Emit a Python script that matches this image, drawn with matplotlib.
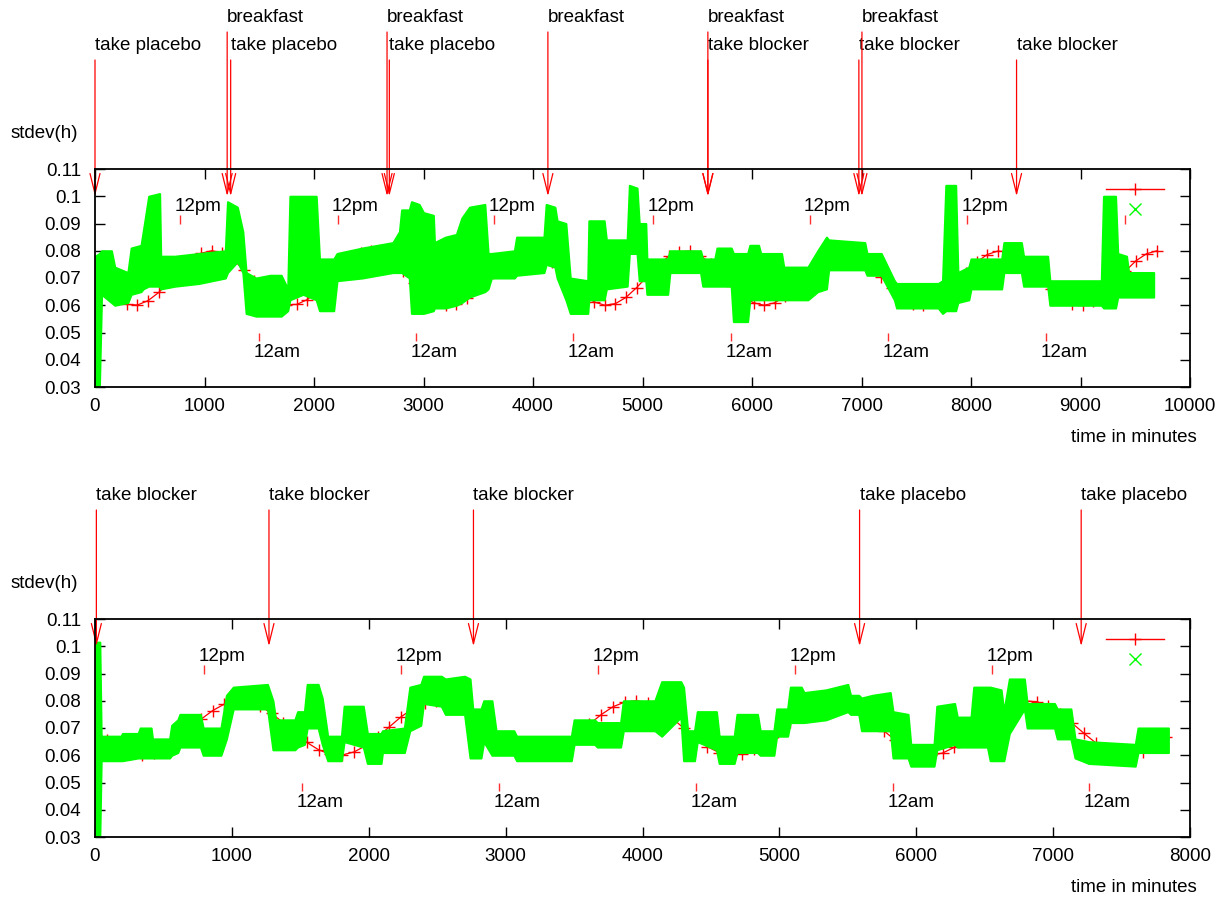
import numpy as np
import matplotlib
matplotlib.use('Agg')
import matplotlib.pyplot as plt
import matplotlib.transforms as mtransforms
from matplotlib.lines import Line2D
from matplotlib.ticker import FuncFormatter

plt.rcParams['font.family'] = ['Liberation Sans', 'DejaVu Sans']
FS = 13.5

# ---------------- top panel data ----------------
top_red_t = np.arange(0, 9701, 97)
top_red_v = [0.0696, 0.0655, 0.0622, 0.0603, 0.0601, 0.0617, 0.0647, 0.0687, 0.0728, 0.0765,
             0.0791, 0.0800, 0.0792, 0.0767, 0.0731, 0.0689, 0.0649, 0.0618, 0.0602, 0.0603,
             0.0621, 0.0653, 0.0693, 0.0735, 0.0770, 0.0793, 0.0800, 0.0789, 0.0762, 0.0725,
             0.0683, 0.0644, 0.0615, 0.0601, 0.0604, 0.0625, 0.0659, 0.0700, 0.0741, 0.0775,
             0.0795, 0.0799, 0.0786, 0.0757, 0.0718, 0.0676, 0.0638, 0.0612, 0.0600, 0.0606,
             0.0629, 0.0665, 0.0706, 0.0747, 0.0779, 0.0797, 0.0798, 0.0782, 0.0752, 0.0712,
             0.0670, 0.0633, 0.0609, 0.0600, 0.0609, 0.0634, 0.0671, 0.0713, 0.0752, 0.0783,
             0.0798, 0.0797, 0.0778, 0.0746, 0.0705, 0.0664, 0.0629, 0.0606, 0.0600, 0.0612,
             0.0639, 0.0677, 0.0719, 0.0758, 0.0786, 0.0799, 0.0795, 0.0774, 0.0740, 0.0699,
             0.0658, 0.0624, 0.0604, 0.0601, 0.0615, 0.0644, 0.0684, 0.0725, 0.0763, 0.0789,
             0.0800]

top_g_t = [0, 40, 60, 150, 180, 300, 330, 420, 440, 490, 590, 600, 730, 950, 1190, 1210, 1300,
           1350, 1380, 1470, 1600, 1700, 1760, 1780, 1900, 2020, 2050, 2180, 2210, 2440, 2720,
           2780, 2800, 2870, 2890, 2960, 3000, 3090, 3100, 3200, 3300, 3350, 3420, 3560, 3590,
           3620, 3830, 3850, 4100, 4120, 4200, 4220, 4300, 4340, 4500, 4510, 4650, 4670, 4860,
           4880, 4950, 4970, 5030, 5040, 5230, 5250, 5530, 5550, 5660, 5680, 5810, 5830, 5960,
           5980, 6060, 6080, 6270, 6290, 6510, 6600, 6680, 6700, 7030, 7050, 7180, 7300, 7320,
           7700, 7740, 7770, 7860, 7880, 7980, 8000, 8280, 8300, 8460, 8480, 8700, 8720, 9190,
           9210, 9320, 9340, 9420, 9440, 9668]
top_g_lo = [0.030, 0.030, 0.064, 0.061, 0.060, 0.061, 0.064, 0.065, 0.066, 0.067, 0.067, 0.066,
            0.067, 0.068, 0.070, 0.072, 0.076, 0.072, 0.057, 0.056, 0.056, 0.056, 0.058, 0.062,
            0.064, 0.062, 0.058, 0.058, 0.069, 0.070, 0.072, 0.072, 0.072, 0.070, 0.057, 0.057,
            0.057, 0.058, 0.059, 0.059, 0.060, 0.061, 0.063, 0.065, 0.066, 0.070, 0.070, 0.071,
            0.072, 0.075, 0.074, 0.070, 0.062, 0.057, 0.057, 0.062, 0.062, 0.066, 0.067, 0.079,
            0.079, 0.069, 0.069, 0.064, 0.064, 0.072, 0.072, 0.067, 0.067, 0.067, 0.067, 0.054,
            0.054, 0.062, 0.062, 0.062, 0.062, 0.062, 0.062, 0.065, 0.066, 0.073, 0.073, 0.071,
            0.071, 0.062, 0.059, 0.059, 0.057, 0.058, 0.058, 0.061, 0.062, 0.066, 0.066, 0.072,
            0.072, 0.067, 0.067, 0.060, 0.060, 0.059, 0.059, 0.063, 0.063, 0.063, 0.063]
top_g_hi = [0.078, 0.079, 0.080, 0.080, 0.074, 0.072, 0.081, 0.082, 0.087, 0.100, 0.101, 0.078,
            0.078, 0.079, 0.080, 0.098, 0.096, 0.087, 0.072, 0.070, 0.071, 0.071, 0.066, 0.100,
            0.100, 0.100, 0.077, 0.077, 0.079, 0.081, 0.083, 0.087, 0.095, 0.095, 0.098, 0.097,
            0.094, 0.093, 0.083, 0.085, 0.086, 0.092, 0.096, 0.097, 0.079, 0.079, 0.080, 0.085,
            0.085, 0.097, 0.096, 0.091, 0.090, 0.070, 0.069, 0.091, 0.091, 0.084, 0.084, 0.104,
            0.103, 0.090, 0.090, 0.077, 0.077, 0.080, 0.080, 0.077, 0.077, 0.081, 0.081, 0.079,
            0.079, 0.082, 0.082, 0.079, 0.079, 0.074, 0.074, 0.080, 0.085, 0.084, 0.083, 0.079,
            0.079, 0.069, 0.068, 0.068, 0.069, 0.104, 0.104, 0.072, 0.074, 0.077, 0.077, 0.083,
            0.083, 0.078, 0.078, 0.069, 0.069, 0.100, 0.100, 0.079, 0.078, 0.072, 0.072]

top_noon = [776, 2216, 3646, 5096, 6526, 7966, 9404]
top_noon_labels = ['12pm', '12pm', '12pm', '12pm', '12pm', '12pm', '']
top_midnight = [1496, 2932, 4366, 5808, 7240, 8688]

top_pill_t = [0, 1239, 2688, 5597, 6976, 8416]
top_pill_text = ['take placebo', 'take placebo', 'take placebo',
                 'take blocker', 'take blocker', 'take blocker']
top_breakfast_t = [1207, 2667, 4136, 5597, 7004]

# ---------------- bottom panel data ----------------
bot_red_t = np.arange(0, 7827, 86)
bot_red_v = [0.0691, 0.0655, 0.0626, 0.0606, 0.0600, 0.0608, 0.0628, 0.0659, 0.0695, 0.0732,
             0.0764, 0.0788, 0.0799, 0.0797, 0.0781, 0.0754, 0.0719, 0.0682, 0.0647, 0.0620,
             0.0603, 0.0601, 0.0612, 0.0635, 0.0667, 0.0704, 0.0741, 0.0771, 0.0792, 0.0800,
             0.0794, 0.0775, 0.0745, 0.0710, 0.0672, 0.0639, 0.0614, 0.0601, 0.0602, 0.0617,
             0.0643, 0.0677, 0.0714, 0.0749, 0.0778, 0.0795, 0.0800, 0.0790, 0.0768, 0.0737,
             0.0700, 0.0663, 0.0632, 0.0610, 0.0600, 0.0605, 0.0622, 0.0651, 0.0686, 0.0723,
             0.0757, 0.0783, 0.0798, 0.0799, 0.0786, 0.0761, 0.0728, 0.0690, 0.0655, 0.0625,
             0.0606, 0.0600, 0.0608, 0.0629, 0.0659, 0.0696, 0.0733, 0.0765, 0.0788, 0.0799,
             0.0797, 0.0780, 0.0753, 0.0718, 0.0681, 0.0646, 0.0619, 0.0603, 0.0601, 0.0612,
             0.0636, 0.0668]

bot_g_t = [0, 35, 45, 190, 200, 315, 330, 410, 420, 545, 560, 605, 620, 770, 790, 920, 960,
           1010, 1260, 1300, 1320, 1460, 1480, 1530, 1550, 1630, 1660, 1700, 1800, 1820, 1960,
           1990, 2090, 2100, 2260, 2300, 2380, 2400, 2530, 2560, 2700, 2740, 2760, 2820, 2840,
           2900, 2930, 3060, 3080, 3480, 3500, 3650, 3670, 3840, 3860, 4090, 4140, 4280, 4300,
           4330, 4380, 4400, 4540, 4560, 4670, 4690, 4840, 4860, 4960, 4980, 5060, 5080, 5160,
           5180, 5340, 5500, 5520, 5580, 5600, 5680, 5810, 5830, 5940, 5960, 6130, 6150, 6280,
           6300, 6400, 6420, 6520, 6540, 6620, 6640, 6680, 6790, 6810, 7010, 7030, 7130, 7160,
           7260, 7600, 7620, 7842]
bot_g_lo = [0.030, 0.030, 0.058, 0.058, 0.058, 0.059, 0.059, 0.059, 0.059, 0.059, 0.060, 0.061,
            0.063, 0.063, 0.060, 0.060, 0.066, 0.077, 0.077, 0.062, 0.062, 0.062, 0.063, 0.064,
            0.070, 0.070, 0.064, 0.058, 0.058, 0.065, 0.063, 0.057, 0.057, 0.061, 0.061, 0.069,
            0.071, 0.079, 0.078, 0.075, 0.075, 0.059, 0.059, 0.059, 0.065, 0.060, 0.060, 0.060,
            0.058, 0.058, 0.064, 0.064, 0.063, 0.063, 0.069, 0.069, 0.067, 0.074, 0.058, 0.058,
            0.058, 0.065, 0.062, 0.057, 0.057, 0.061, 0.061, 0.060, 0.060, 0.067, 0.067, 0.072,
            0.072, 0.072, 0.073, 0.076, 0.075, 0.075, 0.069, 0.069, 0.069, 0.059, 0.059, 0.056,
            0.056, 0.062, 0.064, 0.063, 0.063, 0.063, 0.063, 0.058, 0.058, 0.058, 0.068, 0.077,
            0.070, 0.070, 0.066, 0.066, 0.059, 0.057, 0.056, 0.061, 0.061]
bot_g_hi = [0.1015, 0.1015, 0.067, 0.067, 0.068, 0.068, 0.070, 0.070, 0.066, 0.066, 0.071, 0.073,
            0.075, 0.075, 0.070, 0.070, 0.082, 0.085, 0.086, 0.080, 0.073, 0.073, 0.076, 0.076,
            0.086, 0.086, 0.081, 0.067, 0.067, 0.078, 0.078, 0.068, 0.068, 0.069, 0.070, 0.085,
            0.086, 0.089, 0.089, 0.088, 0.089, 0.088, 0.077, 0.077, 0.080, 0.080, 0.069, 0.069,
            0.067, 0.067, 0.073, 0.073, 0.072, 0.072, 0.080, 0.080, 0.087, 0.087, 0.085, 0.069,
            0.069, 0.076, 0.076, 0.067, 0.067, 0.075, 0.075, 0.069, 0.069, 0.077, 0.077, 0.085,
            0.085, 0.083, 0.084, 0.086, 0.082, 0.082, 0.081, 0.082, 0.083, 0.076, 0.075, 0.064,
            0.064, 0.078, 0.079, 0.074, 0.074, 0.085, 0.085, 0.085, 0.084, 0.076, 0.088, 0.088,
            0.079, 0.079, 0.077, 0.077, 0.066, 0.065, 0.064, 0.070, 0.070]

bot_noon = [796, 2235, 3674, 5113, 6552]
bot_noon_labels = ['12pm', '12pm', '12pm', '12pm', '12pm']
bot_midnight = [1512, 2951, 4390, 5829, 7261]

bot_pill_t = [10, 1271, 2765, 5586, 7205]
bot_pill_text = ['take blocker', 'take blocker', 'take blocker', 'take placebo', 'take placebo']

# ---------------- drawing ----------------
W, H = 1219, 899
fig = plt.figure(figsize=(W / 100, H / 100), dpi=100)
ax1 = fig.add_axes([95 / W, (H - 387) / H, 1095 / W, 218 / H])
ax2 = fig.add_axes([95 / W, (H - 837) / H, 1095 / W, 218 / H])

RED = '#ff0000'
GREEN = '#00ff00'


def fy(px):
    return 1 - px / H


def panel(ax, xmax, red_t, red_v, g_t, g_lo, g_hi, noon, noon_lab, midnight,
          events, ylabel_px, xlabel_px, legend_top_px, axes_bottom_px):
    ax.plot(red_t, red_v, color=RED, lw=0.9, marker='+', ms=8, mew=1.0, zorder=2)
    ax.fill_between(g_t, g_lo, g_hi, color=GREEN, lw=1.5, zorder=3)

    ax.vlines(noon, 0.090, 0.093, color='#ff3030', lw=1.0, zorder=4)
    ax.vlines(midnight, 0.0468, 0.0497, color='#ff3030', lw=1.0, zorder=4)
    for t, lab in zip(noon, noon_lab):
        if lab:
            ax.annotate(lab, xy=(t, 0.0964), xytext=(-4, 0), textcoords='offset points',
                        ha='left', va='center', fontsize=FS, zorder=5)
    for t in midnight:
        ax.annotate('12am', xy=(t, 0.0427), xytext=(-4, 0), textcoords='offset points',
                    ha='left', va='center', fontsize=FS, zorder=5)

    trans = mtransforms.blended_transform_factory(ax.transData, fig.transFigure)
    for t, text, text_px, start_px in events:
        ax.annotate('', xy=(t, 0.1), xycoords='data', xytext=(t, fy(start_px)),
                    textcoords=trans, annotation_clip=False,
                    arrowprops=dict(arrowstyle='->,head_length=1.45,head_width=0.36',
                                    color=RED, lw=0.9, shrinkA=0, shrinkB=0,
                                    mutation_scale=10),
                    zorder=6)
        ax.text(t, fy(text_px), text, transform=trans, ha='left', va='center',
                fontsize=FS, clip_on=False)

    ax.set_xlim(0, xmax)
    ax.set_ylim(0.03, 0.11)
    ax.set_xticks(np.arange(0, xmax + 1, 1000))
    ax.set_yticks(np.arange(0.03, 0.1101, 0.01))
    ax.yaxis.set_major_formatter(FuncFormatter(lambda v, p: '%g' % round(v, 2)))
    ax.tick_params(direction='in', length=7, width=1.0, top=True, right=True,
                   labelsize=FS, color='black')
    ax.tick_params(axis='x', pad=8)
    ax.tick_params(axis='y', pad=10)
    for s in ax.spines.values():
        s.set_linewidth(1.3)
        s.set_zorder(7)

    fig.text(11 / W, fy(ylabel_px), 'stdev(h)', ha='left', va='center', fontsize=FS)
    fig.text(1197 / W, fy(xlabel_px), 'time in minutes', ha='right', va='center',
             fontsize=FS)

    handles = [Line2D([], [], color=RED, lw=1.0, marker='+', ms=8, mew=1.0),
               Line2D([], [], color=GREEN, ls='none', marker='x', ms=8, mew=1.0)]
    ax.legend(handles, ['', ''], loc='upper right',
              bbox_to_anchor=((1164 - 95) / 1095, (axes_bottom_px - legend_top_px) / 218),
              frameon=False, handlelength=58 / 18.75, handletextpad=0.0, borderpad=0.0,
              borderaxespad=0.0, labelspacing=0.15, fontsize=FS, numpoints=1)


top_events = [(t, s, 46, 60) for t, s in zip(top_pill_t, top_pill_text)] + \
             [(t, 'breakfast', 18, 32) for t in top_breakfast_t]
bot_events = [(t, s, 496, 510) for t, s in zip(bot_pill_t, bot_pill_text)]

panel(ax1, 10000, top_red_t, top_red_v, top_g_t, top_g_lo, top_g_hi,
      top_noon, top_noon_labels, top_midnight, top_events, 133, 437, 182, 387)
panel(ax2, 8000, bot_red_t, bot_red_v, bot_g_t, bot_g_lo, bot_g_hi,
      bot_noon, bot_noon_labels, bot_midnight, bot_events, 583, 888, 632, 837)

fig.savefig('out.png', dpi=100)
